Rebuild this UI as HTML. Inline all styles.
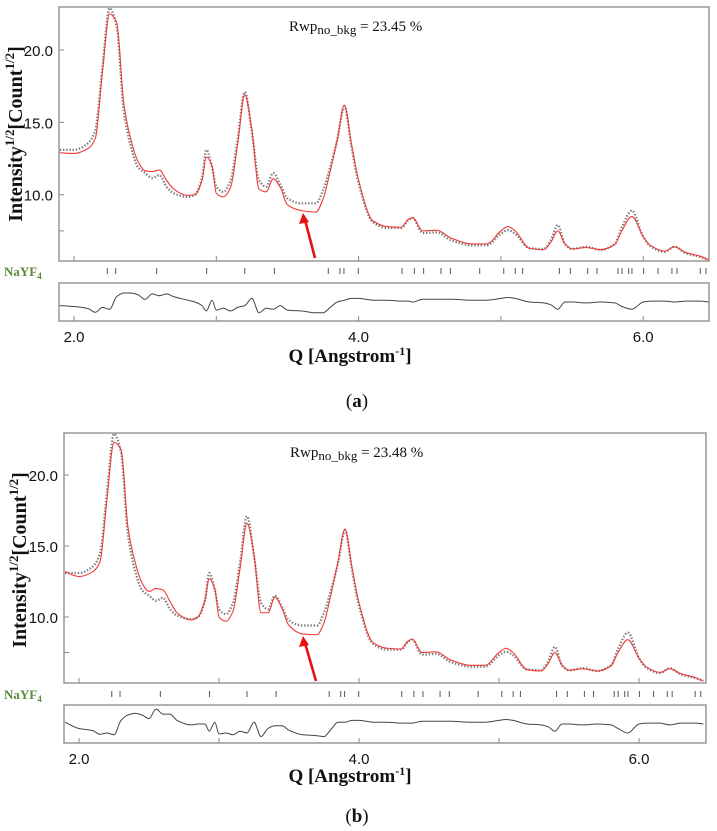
<!DOCTYPE html>
<html><head><meta charset="utf-8">
<style>
html,body{margin:0;padding:0;background:#fff;}
svg{display:block;}
.tl{font-family:"Liberation Sans",sans-serif;font-size:15px;fill:#111;}
.sf{font-family:"Liberation Serif",serif;}
</style></head>
<body>
<svg id="fig" width="717" height="831" viewBox="0 0 717 831" xmlns="http://www.w3.org/2000/svg"></svg>
<script>
const qValues=[1.9,2.0,2.1,2.15,2.2,2.25,2.3,2.35,2.4,2.45,2.5,2.55,2.6,2.65,2.7,2.8,2.85,2.9,2.93,2.97,3.0,3.05,3.1,3.15,3.2,3.25,3.3,3.35,3.4,3.45,3.5,3.6,3.7,3.75,3.8,3.85,3.9,3.95,4.0,4.1,4.2,4.3,4.35,4.38,4.45,4.55,4.65,4.8,4.9,5.0,5.05,5.1,5.2,5.3,5.35,5.4,5.45,5.5,5.6,5.7,5.8,5.85,5.92,6.0,6.05,6.15,6.22,6.3,6.4,6.46];
const obsValues=[13.1,13.1,13.57,14.47,18.8,22.9,21.6,15.8,13.3,11.9,11.5,11.15,11.35,10.55,10.1,9.85,10.0,11.2,13.1,11.9,10.55,10.2,11.0,13.8,17.1,14.3,11.0,10.55,11.5,10.7,9.75,9.4,9.4,10.3,11.9,13.8,16.1,13.3,10.8,8.1,7.7,7.7,8.25,8.4,7.35,7.4,6.85,6.5,6.5,7.3,7.55,7.3,6.3,6.25,6.85,7.9,6.6,6.25,6.4,6.2,6.6,7.75,8.9,7.1,6.45,6.05,6.4,5.95,5.7,5.5];
const calcValuesA=[12.9,12.85,13.2,13.9,18.5,22.5,21.9,16.3,13.8,12.3,11.65,11.6,11.7,11.0,10.4,9.95,10.0,11.0,12.6,12.0,10.1,9.85,10.5,13.5,16.9,14.5,10.4,10.2,11.1,10.5,9.3,8.9,8.8,9.7,11.6,13.8,16.2,13.5,11.0,8.2,7.8,7.75,8.3,8.4,7.5,7.55,7.0,6.6,6.6,7.5,7.8,7.5,6.3,6.2,6.7,7.5,6.6,6.25,6.35,6.2,6.55,7.5,8.5,7.1,6.5,6.1,6.4,6.0,5.75,5.5];
const calcValuesB=[13.2,12.85,13.2,13.9,18.3,22.3,21.8,16.3,13.9,12.4,11.8,12.0,11.9,11.1,10.3,9.8,10.0,11.2,12.7,12.0,10.0,9.7,10.4,13.4,16.6,14.4,10.3,10.3,11.4,10.6,9.4,8.8,8.75,9.6,11.6,13.9,16.2,13.5,11.0,8.2,7.8,7.75,8.3,8.45,7.5,7.55,7.0,6.6,6.6,7.5,7.8,7.5,6.3,6.2,6.7,7.5,6.6,6.25,6.35,6.2,6.55,7.5,8.4,7.1,6.5,6.1,6.35,6.0,5.75,5.5];
const reflectionQ=[2.234,2.293,2.581,2.932,3.20,3.408,3.787,3.869,3.897,3.998,4.305,4.392,4.457,4.579,4.645,4.851,5.020,5.101,5.153,5.411,5.488,5.610,5.675,5.823,5.851,5.898,5.921,6.003,6.104,6.202,6.237,6.401,6.441];
const xTickValues=[2.0,4.0,6.0];
const xMinorTicks=[3.0,5.0];
const yTickValues=[10.0,15.0,20.0];
const yMinorTicks=[7.5];
const rwpLabels=["23.45","23.48"];
const panelLetters=["a","b"];

const NS="http://www.w3.org/2000/svg";
const svg=document.getElementById('fig');
function mk(tag,attrs,parent){const e=document.createElementNS(NS,tag);for(const k in attrs)e.setAttribute(k,attrs[k]);(parent||svg).appendChild(e);return e;}
// monotone cubic (Fritsch-Carlson)
function smooth(p){const n=p.length,dx=[],m=[],t=[];
 for(let i=0;i<n-1;i++){dx[i]=p[i+1][0]-p[i][0];m[i]=(p[i+1][1]-p[i][1])/dx[i];}
 t[0]=m[0];t[n-1]=m[n-2];
 for(let i=1;i<n-1;i++){if(m[i-1]*m[i]<=0)t[i]=0;else{const w1=2*dx[i]+dx[i-1],w2=dx[i]+2*dx[i-1];t[i]=(w1+w2)/(w1/m[i-1]+w2/m[i]);}}
 let d="M"+p[0][0].toFixed(2)+","+p[0][1].toFixed(2);
 for(let i=0;i<n-1;i++){const h=dx[i]/3;
  d+=" C"+(p[i][0]+h).toFixed(2)+","+(p[i][1]+t[i]*h).toFixed(2)+" "+(p[i+1][0]-h).toFixed(2)+","+(p[i+1][1]-t[i+1]*h).toFixed(2)+" "+p[i+1][0].toFixed(2)+","+p[i+1][1].toFixed(2);}
 return d;}

function panel(c,calc,idx){
 const g=mk('g',{});
 
 
 const X=q=>c.x2+(q-2)*c.px;
 const Y=v=>c.y10-(v-10)*c.py;
 const box=mk('rect',{x:c.L,y:c.T,width:c.R-c.L,height:c.B-c.T,fill:'none',stroke:'#888','stroke-width':1.3},g);
 
 
 yTickValues.forEach(v=>{mk('line',{x1:c.L,x2:c.L+5,y1:Y(v),y2:Y(v),stroke:'#888'},g);
  const t=mk('text',{x:c.L-6,y:Y(v)+6,'text-anchor':'end',class:'tl','font-size':'16'},g);t.textContent=v.toFixed(1);
  
  });
 yMinorTicks.forEach(v=>mk('line',{x1:c.L,x2:c.L+5,y1:Y(v),y2:Y(v),stroke:'#888'},g));
 xTickValues.concat(xMinorTicks).forEach(q=>{mk('line',{x1:X(q),x2:X(q),y1:c.B,y2:c.B-5,stroke:'#888'},g);
  mk('line',{x1:X(q),x2:X(q),y1:c.rB,y2:c.rB-5,stroke:'#888'},g);});
 xTickValues.forEach(q=>{const t=mk('text',{x:X(q),y:c.rB+21,'text-anchor':'middle',class:'tl','font-size':'16'},g);t.textContent=q.toFixed(1);
  
  });
 const cp=mk('clipPath',{id:'clip'+idx},g);mk('rect',{x:c.L,y:c.T,width:c.R-c.L,height:c.B-c.T},cp);
 const ptsO=qValues.map((q,i)=>[X(q),Y(obsValues[i])]);
 const ptsC=qValues.map((q,i)=>[X(q),Y(calc[i])]);
 const o=mk('path',{d:smooth(ptsO),fill:'none',stroke:'#7a7a7a','stroke-width':2.3,'stroke-dasharray':'1.4 1.8','clip-path':'url(#clip'+idx+')'},g);
 
 
 const cl=mk('path',{d:smooth(ptsC),fill:'none',stroke:'#f03a3a','stroke-width':1.1,'clip-path':'url(#clip'+idx+')'},g);
 
 
 reflectionQ.forEach(q=>{const l=mk('line',{x1:X(q),x2:X(q),y1:c.tk-3,y2:c.tk+3,stroke:'#555','stroke-width':1},g);
  
  });
 const ny=mk('text',{x:4,y:c.tk+5,class:'sf','font-size':'13','font-weight':'bold',fill:'#5a8a3a'},g);
 ny.innerHTML='NaYF<tspan font-size="9" dy="3">4</tspan>';
 
 
 const rb=mk('rect',{x:c.L,y:c.rT,width:c.R-c.L,height:c.rB-c.rT,fill:'none',stroke:'#888','stroke-width':1.3},g);
 
 
 const cp2=mk('clipPath',{id:'clip'+idx+'r'},g);mk('rect',{x:c.L,y:c.rT,width:c.R-c.L,height:c.rB-c.rT},cp2);
 const rp=qValues.map((q,i)=>[X(q),c.rc-(calc[i]-obsValues[i])*18]).map(p=>[p[0],Math.max(c.rT+4,Math.min(c.rB-4,p[1]))]);
 const rl=mk('path',{d:smooth(rp),fill:'none',stroke:'#444','stroke-width':1,'clip-path':'url(#clip'+idx+'r)'},g);
 
 
 const ar=mk('g',{},g);
 
 
 mk('line',{x1:c.ax1,y1:c.ay1,x2:c.ax2+2,y2:c.ay2+7,stroke:'#e81010','stroke-width':2.6},ar);
 mk('polygon',{points:`${c.ax2},${c.ay2} ${c.ax2-4},${c.ay2+11} ${c.ax2+6},${c.ay2+9}`,fill:'#e81010'},ar);
 const rw=mk('text',{x:c.rwx,y:c.rwy,class:'sf','font-size':'15',fill:'#111'},g);
 rw.innerHTML='Rwp<tspan font-size="13" dy="3">no_bkg</tspan><tspan dy="-3"> = '+rwpLabels[idx]+' %</tspan>';
 
 
 const yt=mk('text',{x:0,y:0,class:'sf','font-size':'20','font-weight':'bold',fill:'#111','text-anchor':'middle',transform:`translate(${c.ytx},${c.yty}) rotate(-90)`},g);
 yt.innerHTML='Intensity<tspan font-size="13" dy="-8">1/2</tspan><tspan dy="8">[Count</tspan><tspan font-size="13" dy="-8">1/2</tspan><tspan dy="8">]</tspan>';
 
 
 const xt=mk('text',{x:c.xtx,y:c.xty,class:'sf','font-size':'19','font-weight':'bold',fill:'#111','text-anchor':'middle'},g);
 xt.innerHTML='Q [Angstrom<tspan font-size="12" dy="-7">-1</tspan><tspan dy="7">]</tspan>';
 
 
 const pl=mk('text',{x:c.plx,y:c.ply,class:'sf','font-size':'19',fill:'#111','text-anchor':'middle'},g);
 pl.innerHTML='(<tspan font-weight="bold">'+panelLetters[idx]+'</tspan>)';
 
 
}
panel({L:59,R:709,T:7,B:261,x2:74,px:142.3,y10:194.7,py:14.47,tk:271,rT:283,rB:321,rc:302,
 ax1:315,ay1:258,ax2:303,ay2:213,rwx:289,rwy:31,ytx:22,yty:134,xtx:350,xty:362,plx:357,ply:407},calcValuesA,0);
panel({L:64,R:706,T:433,B:683,x2:79,px:140,y10:617,py:14.2,tk:694,rT:705,rB:743,rc:724,
 ax1:316,ay1:681,ax2:303,ay2:636,rwx:290,rwy:457,ytx:26,yty:560,xtx:350,xty:782,plx:357,ply:822},calcValuesB,1);
</script>
</body></html>
